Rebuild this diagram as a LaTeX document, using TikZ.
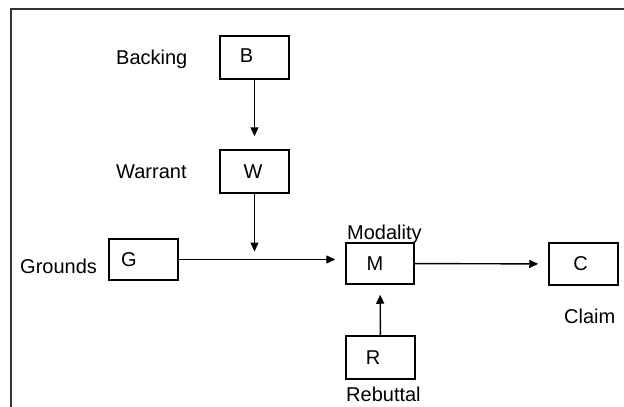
\documentclass[tikz,border=0pt]{standalone}
\usepackage{fontspec}
\setmainfont{Liberation Sans}
\usetikzlibrary{arrows.meta}
\begin{document}
\begin{tikzpicture}[x=1pt,y=-1pt,
  every node/.style={font=\fontsize{20}{23}\selectfont, inner sep=0pt},
  box/.style={draw, line width=1.5pt, minimum width=69pt, minimum height=42pt},
  lbl/.style={anchor=base west},
  conn/.style={line width=1.4pt, -{Triangle[length=9pt,width=8pt]}},
  frameline/.style={draw=black!80, line width=2.2pt}]
\useasboundingbox (0,0) rectangle (624,407);
\clip (0,0) rectangle (624,407);
% frame
\draw[frameline] (11,420) -- (11,9) -- (640,9);
% boxes
\node[box, minimum height=43pt, label={[xshift=-8pt,yshift=1.5pt]center:B}] (B) at (254.5,57.5) {};
\node[box, minimum height=43pt, label={[xshift=-1.5pt]center:W}] (W) at (254.5,171.5) {};
\node[box, minimum height=41pt, label={[xshift=-14.5pt]center:G}] (G) at (143.5,259.5) {};
\node[box, minimum width=68pt, minimum height=41pt, label={[xshift=-5pt,yshift=-0.5pt]center:M}] (M) at (380,263.5) {};
\node[box, label={[xshift=-3pt]center:C}] (C) at (583.5,264) {};
\node[box, minimum height=43pt, label={[xshift=-7.5pt]center:R}] (R) at (380.5,357.5) {};
% labels
\node[lbl] (lB) at (116,64) {Backing};
\node[lbl] (lW) at (116,178) {Warrant};
\node[lbl] (lG) at (20,273) {Grounds};
\node[lbl] (lM) at (347,239) {Modality};
\node[lbl] (lC) at (564,323) {Claim};
\node[lbl] (lR) at (346,401) {Rebuttal};
% connectors
\coordinate (j) at (W.south |- G.east);
\draw[conn, shorten >=13pt] (B) -- (W);
\draw[conn, shorten >=8pt] (W) -- (j);
\draw[conn, shorten >=10pt] (G) -- (G -| M.west);
\draw[conn, shorten >=10pt] (M) -- (C);
\draw[conn, shorten >=10pt] (R) -- (M);
\end{tikzpicture}
\end{document}
